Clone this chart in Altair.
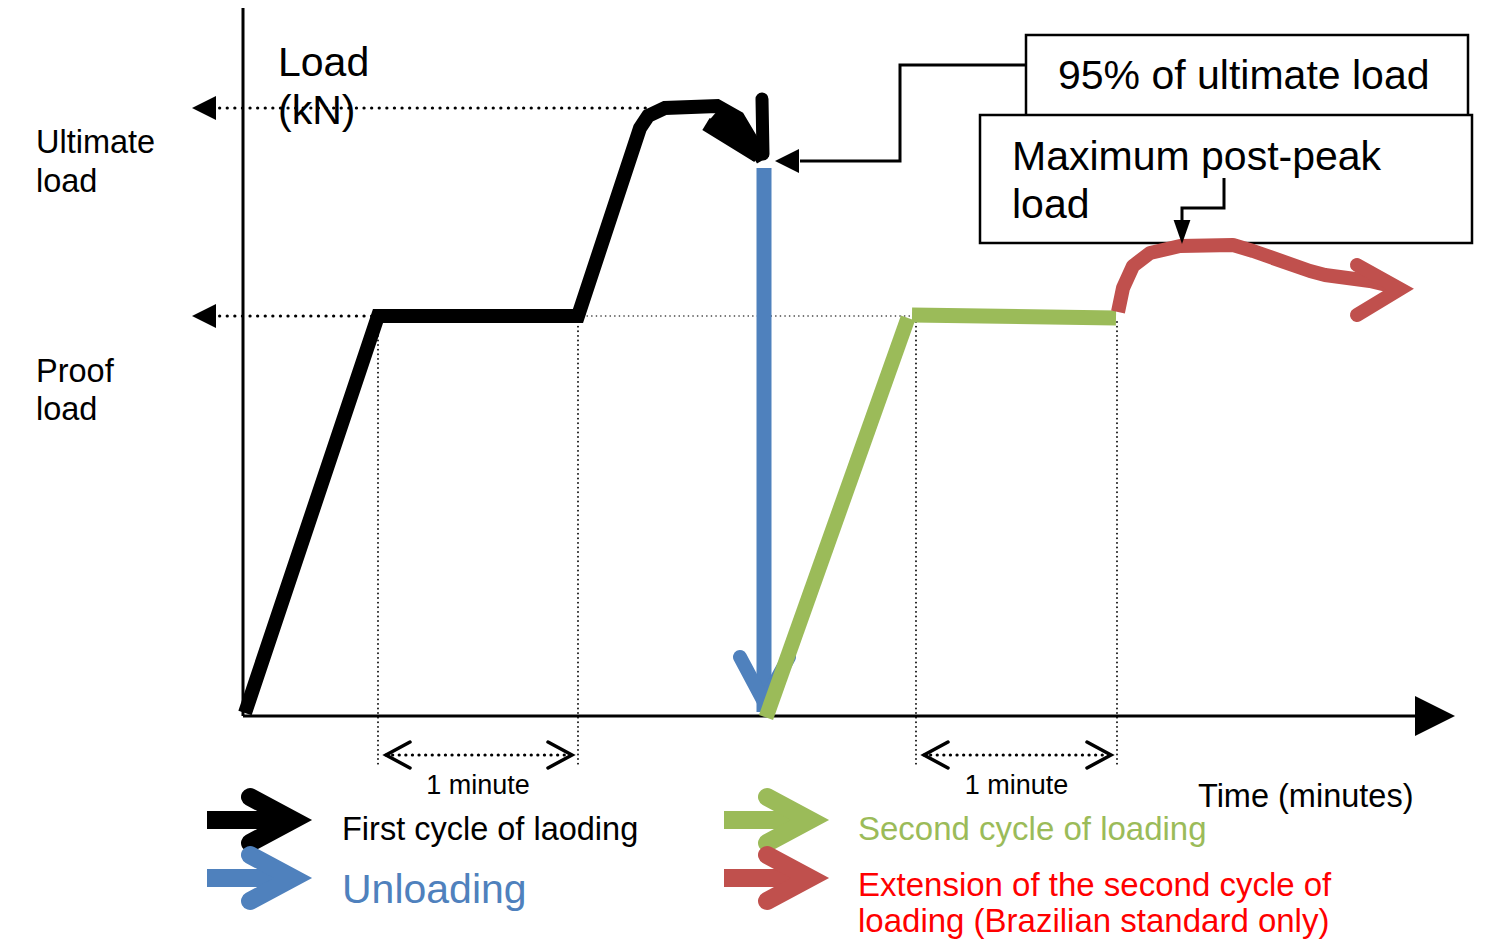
import altair as alt
import pandas as pd

# ---------------- data (time in minutes, load in kN; schematic diagram) ----------------
proof_load = 40.0
ultimate_load = 60.8

first_cycle_t    = [0.01, 0.675, 1.675, 1.985, 2.025, 2.11, 2.37, 2.475, 2.6]
first_cycle_load = [0.3, 40.0, 40.0, 58.8, 60.0, 60.8, 61.0, 59.8, 55.6]
drop_t    = [2.6, 2.595]
drop_load = [56.2, 61.7]
wedge_starts_t    = [2.315, 2.345, 2.385]
wedge_starts_load = [59.2, 59.9, 60.4]
wedge_end = (2.575, 56.0)

unload_t    = [2.605, 2.605]
unload_load = [54.8, 0.4]
unload_head_t    = [2.485, 2.605, 2.73]
unload_head_load = [5.9, 1.4, 5.9]

rise2_t    = [2.615, 3.325]
rise2_load = [-0.15, 39.8]
hold2_t    = [3.345, 4.365]
hold2_load = [40.1, 39.8]

extension_t    = [4.375, 4.40, 4.45, 4.535, 4.685, 4.95, 5.05, 5.335, 5.41, 5.635, 5.76]
extension_load = [40.4, 42.8, 45.0, 46.3, 47.0, 47.1, 46.5, 44.5, 44.1, 43.5, 42.9]
extension_head_t    = [5.57, 5.785, 5.57]
extension_head_load = [45.1, 42.7, 40.1]

hold_start = [0.675, 3.365]
hold_end   = [1.675, 4.37]
hold_label = ["1 minute", "1 minute"]

# annotation boxes and leaders
box_t0 = [3.915, 3.685]
box_t1 = [6.125, 6.145]
box_l0 = [68.1, 60.1]
box_l1 = [58.6, 47.3]
leader95_t    = [3.915, 3.285, 3.285, 2.785]
leader95_load = [65.1, 65.1, 55.5, 55.5]
leaderpp_t    = [4.905, 4.905, 4.695, 4.695]
leaderpp_load = [53.8, 50.8, 50.8, 49.4]

# text
big_text   = ["Load", "(kN)", "95% of ultimate load", "Maximum post-peak", "load"]
big_t      = [0.175, 0.175, 4.075, 3.845, 3.845]
big_load   = [65.2, 60.4, 63.9, 55.8, 51.0]
mid_text   = ["Ultimate", "load", "Proof", "load", "First cycle of laoding", "Time (minutes)"]
mid_t      = [-1.035, -1.035, -1.035, -1.035, 0.495, 4.775]
mid_load   = [57.3, 53.45, 34.45, 30.65, -11.4, -8.1]

legend_rows = [-10.4, -16.2]
legend_cols = [-0.18, 2.405]

# ---------------- frame ----------------
W, H = 1490, 933
T0, T1 = -1.175, 6.275
L0, L1 = -22.5, 70.8
FONT = "Liberation Sans"

xs = alt.Scale(domain=[T0, T1], nice=False, zero=False)
ys = alt.Scale(domain=[L0, L1], nice=False, zero=False)
X = alt.X("t:Q", scale=xs, axis=None)
Y = alt.Y("v:Q", scale=ys, axis=None)


def paths(polys):
    rows = []
    for s, (tt, vv) in enumerate(polys):
        for i, (a, b) in enumerate(zip(tt, vv)):
            rows.append({"t": a, "v": b, "s": s, "o": i})
    return pd.DataFrame(rows)


def line(polys, color, width, cap="butt", join="miter", dash=None):
    kw = dict(color=color, strokeWidth=width, strokeCap=cap, strokeJoin=join)
    if dash is not None:
        kw["strokeDash"] = dash
    return alt.Chart(paths(polys)).mark_line(**kw).encode(
        x=X, y=Y, detail="s:N", order="o:Q")


def tri(t, v, shape, size):
    return alt.Chart(pd.DataFrame({"t": t, "v": v})).mark_point(
        shape=shape, size=size, filled=True, fill="black", opacity=1, strokeWidth=0
    ).encode(x=X, y=Y)


def texts(lbl, t, v, size, color, align="left"):
    return alt.Chart(pd.DataFrame({"t": t, "v": v, "txt": lbl})).mark_text(
        align=align, baseline="middle", font=FONT, fontSize=size, color=color
    ).encode(x=X, y=Y, text="txt:N")


layers = []

# boxes
layers.append(alt.Chart(pd.DataFrame({"t": box_t0, "t2": box_t1, "v": box_l0, "v2": box_l1, "k": [0, 1]}))
              .mark_rect(fill="white", stroke="black", strokeWidth=2.5)
              .encode(x=X, x2="t2:Q", y=Y, y2="v2:Q", order="k:Q"))

# dotted reference lines
dots = [0.1, 7.5]
layers.append(line([([-0.155, 2.035], [ultimate_load] * 2),
                    ([-0.155, 0.675], [proof_load] * 2)], "black", 3.2, cap="round", dash=dots))
layers.append(line([([1.675, 3.345], [proof_load] * 2)], "#333333", 1.6, cap="round", dash=[0.1, 4.5]))
vt = hold_start + hold_end
layers.append(alt.Chart(pd.DataFrame({"t": vt, "v": [39.4] * 4, "v2": [-5.0] * 4}))
              .mark_rule(color="black", strokeWidth=1.8, strokeCap="round", strokeDash=[0.1, 4.5])
              .encode(x=X, y=Y, y2="v2:Q"))
# 1-minute double arrows
layers.append(line([([a + 0.04, b - 0.03], [-3.9, -3.9]) for a, b in zip(hold_start, hold_end)],
                   "black", 3.2, cap="round", dash=[0.1, 6.5]))
chev = []
for a, b in zip(hold_start, hold_end):
    chev.append(([a + 0.16, a + 0.04, a + 0.16], [-2.6, -3.9, -5.2]))
    chev.append(([b - 0.15, b - 0.03, b - 0.15], [-2.6, -3.9, -5.2]))
layers.append(line(chev, "black", 3.5, cap="round"))
layers.append(texts(hold_label, [(a + b) / 2 for a, b in zip(hold_start, hold_end)],
                    [-6.95, -6.95], 27, "black", align="center"))

# axes
layers.append(line([([0, 0], [0, 71.0]), ([0, 5.9], [0, 0])], "black", 3))
layers.append(tri([5.96], [0], "M-1,-1L1,0L-1,1Z", 1600))
layers.append(tri([-0.195, -0.195], [ultimate_load, proof_load], "M-1,0L1,-1L1,1Z", 576))

# curves
wedge = [([a, wedge_end[0]], [b, wedge_end[1]]) for a, b in zip(wedge_starts_t, wedge_starts_load)]
layers.append(line([(first_cycle_t, first_cycle_load)] + wedge, "black", 14))
layers.append(line([(drop_t, drop_load)], "black", 13, cap="round"))
layers.append(line([(unload_t, unload_load)], "#4F81BD", 15))
layers.append(line([(unload_head_t, unload_head_load)], "#4F81BD", 14, cap="round"))
layers.append(line([(rise2_t, rise2_load), (hold2_t, hold2_load)], "#9BBB59", 15))
layers.append(line([(extension_t, extension_load)], "#C0504D", 14, join="round"))
layers.append(line([(extension_head_t, extension_head_load)], "#C0504D", 14, cap="round"))

# leaders
layers.append(line([(leader95_t, leader95_load), (leaderpp_t, leaderpp_load)], "black", 3))
layers.append(tri([2.72], [55.5], "M-1,0L1,-1L1,1Z", 576))
layers.append(tri([4.695], [48.4], "M-0.7,-1L0.7,-1L0,1Z", 576))

# texts
layers.append(texts(big_text, big_t, big_load, 41, "black"))
layers.append(texts(mid_text, mid_t, mid_load, 32.5, "black"))
layers.append(texts(["Unloading"], [0.495], [-17.5], 41, "#4F81BD"))
layers.append(texts(["Second cycle of loading"], [3.075], [-11.4], 33, "#9BBB59"))
layers.append(texts(["Extension of the second cycle of", "loading (Brazilian standard only)"],
                    [3.075, 3.075], [-17.0, -20.6], 33, "#FF0000"))

# legend arrows
legend_colors = [["black", "#4F81BD"], ["#9BBB59", "#C0504D"]]
for ci, c0 in enumerate(legend_cols):
    for ri, r in enumerate(legend_rows):
        col = legend_colors[ci][ri]
        layers.append(line([([c0, c0 + 0.415], [r, r])], col, 18))
        layers.append(line([([c0 + 0.215, c0 + 0.43, c0 + 0.215], [r + 2.3, r, r - 2.3])],
                           col, 18, cap="round"))

chart = alt.layer(*layers).properties(
    width=W, height=H, padding=0, autosize="none", background="white"
).configure_view(stroke=None)

chart.save("out.html", embed_options={"renderer": "svg", "actions": False})
